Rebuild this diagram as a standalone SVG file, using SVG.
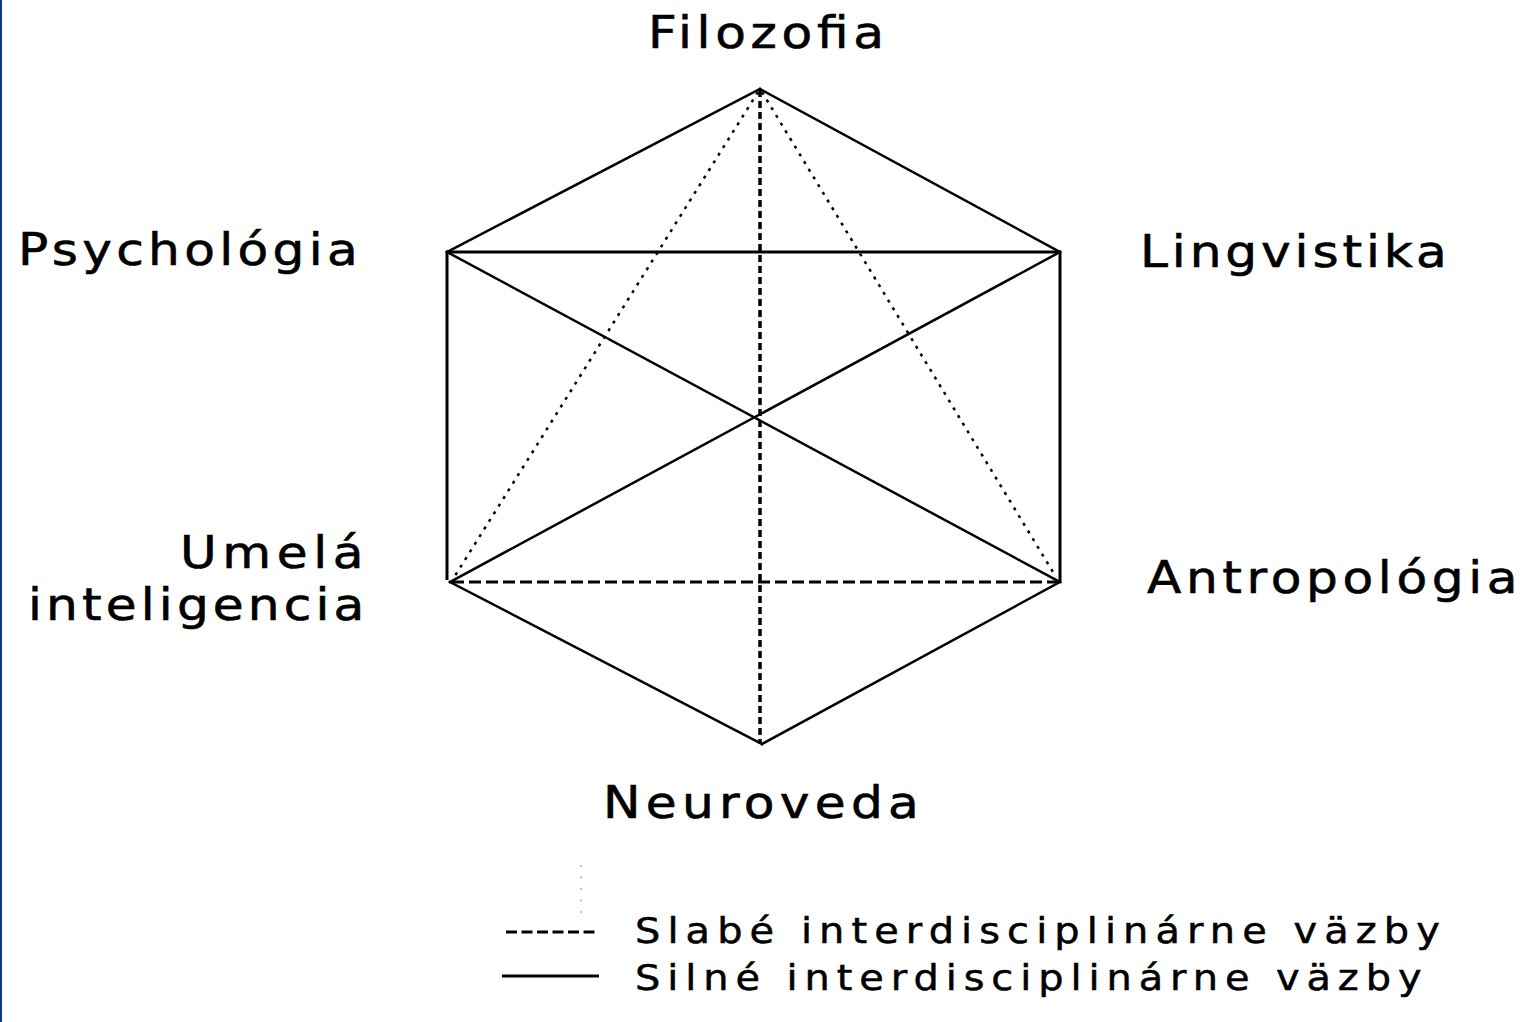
<svg xmlns="http://www.w3.org/2000/svg" width="1539" height="1022" viewBox="0 0 1539 1022">
<style>
.lbl{font-family:"DejaVu Sans","Verdana",sans-serif;font-size:44px;fill:#000;stroke:#000;stroke-width:0.6}
.leg{font-family:"DejaVu Sans","Verdana",sans-serif;font-size:35px;fill:#000;stroke:#000;stroke-width:0.5}
.solid{stroke:#000;stroke-width:2.5;fill:none;stroke-linecap:square}
.thick{stroke:#000;stroke-width:3;fill:none}
.dashed{stroke:#000;stroke-width:3;fill:none;stroke-dasharray:12 5}
.vdash{stroke:#000;stroke-width:3.5;fill:none;stroke-dasharray:7 4}
.dotted{stroke:#000;stroke-width:2.5;fill:none;stroke-dasharray:3 6}
</style>
<rect x="0" y="0" width="1539" height="1022" fill="#fff"/>
<rect x="0" y="0" width="2" height="1022" fill="#0b3896"/>
<g id="connectors">
  <line class="solid" x1="760" y1="89" x2="447" y2="252"/>
  <line class="solid" x1="760" y1="89" x2="1060" y2="252"/>
  <line class="thick" x1="446" y1="252" x2="1061" y2="252"/>
  <line class="thick" x1="447" y1="251" x2="447" y2="580"/>
  <line class="thick" x1="1060" y1="251" x2="1060" y2="583"/>
  <line class="solid" x1="447" y1="252" x2="1060" y2="582"/>
  <line class="solid" x1="1060" y1="252" x2="450" y2="582"/>
  <line class="solid" x1="450" y1="582" x2="762" y2="744"/>
  <line class="solid" x1="1060" y1="582" x2="762" y2="744"/>
  <line class="dashed" x1="452" y1="582" x2="1058" y2="582"/>
  <line class="vdash" x1="760" y1="90" x2="760" y2="744"/>
  <line class="dotted" x1="758" y1="92" x2="453" y2="579"/>
  <line class="dotted" x1="762" y1="92" x2="1056" y2="577"/>
</g>
<g id="node-filozofia"><text class="lbl" transform="translate(648,48) scale(1.14,1)" textLength="207" lengthAdjust="spacing">Filozofia</text></g>
<g id="node-psychologia"><text class="lbl" transform="translate(18,265) scale(1.14,1)" textLength="298" lengthAdjust="spacing">Psychológia</text></g>
<g id="node-lingvistika"><text class="lbl" transform="translate(1140,267) scale(1.14,1)" textLength="269" lengthAdjust="spacing">Lingvistika</text></g>
<g id="node-umela">
  <text class="lbl" transform="translate(180,568) scale(1.14,1)" textLength="161" lengthAdjust="spacing">Umelá</text>
  <text class="lbl" transform="translate(28,620) scale(1.14,1)" textLength="295" lengthAdjust="spacing">inteligencia</text>
</g>
<g id="node-antropologia"><text class="lbl" transform="translate(1147,593) scale(1.14,1)" textLength="325" lengthAdjust="spacing">Antropológia</text></g>
<g id="node-neuroveda"><text class="lbl" transform="translate(603,818) scale(1.14,1)" textLength="277" lengthAdjust="spacing">Neuroveda</text></g>
<g id="legend">
  <line x1="581" y1="865" x2="581" y2="914" stroke="#c0c0c0" stroke-width="2" stroke-dasharray="2 9.5"/>
  <line class="dashed" x1="506" y1="932" x2="595" y2="932" style="stroke-dasharray:11 4.5"/>
  <line class="thick" x1="502" y1="976" x2="599" y2="976"/>
  <text class="leg" transform="translate(635,943) scale(1.14,1)" textLength="706" lengthAdjust="spacing">Slabé interdisciplinárne väzby</text>
  <text class="leg" transform="translate(635,990) scale(1.14,1)" textLength="690" lengthAdjust="spacing">Silné interdisciplinárne väzby</text>
</g>
</svg>
